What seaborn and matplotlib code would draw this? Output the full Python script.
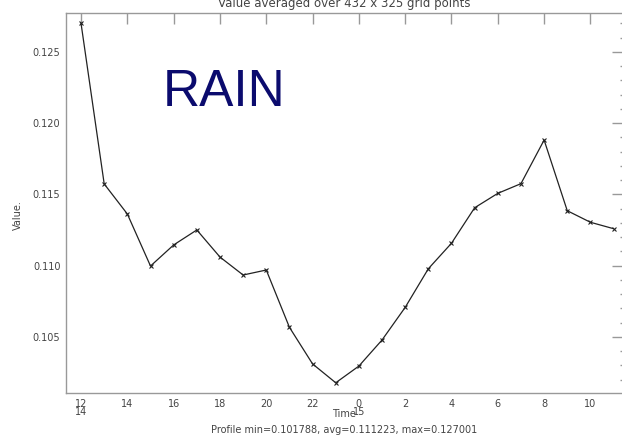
import matplotlib
matplotlib.use("Agg")
import matplotlib.pyplot as plt
import seaborn as sns
import pandas as pd
import numpy as np
from matplotlib.ticker import MultipleLocator, FixedLocator

# Data
hours = [12, 13, 14, 15, 16, 17, 18, 19, 20, 21, 22, 23,
         0, 1, 2, 3, 4, 5, 6, 7, 8, 9, 10, 11]
values = [0.127001, 0.11574, 0.11363, 0.10998, 0.11146, 0.11251, 0.11061, 0.10935,
          0.10970, 0.10568, 0.10311, 0.101788, 0.10296, 0.10479, 0.10708, 0.10979,
          0.11158, 0.11407, 0.11508, 0.11576, 0.11882, 0.11386, 0.11305, 0.11260]
tick_labels = ["12\n14", "14", "16", "18", "20", "22", "0\n15", "2", "4", "6", "8", "10"]
title = "Value averaged over 432 x 325 grid points"
footer = "Profile min=0.101788, avg=0.111223, max=0.127001"

df = pd.DataFrame({"step": np.arange(len(values)), "value": values})

sns.set_style("white")
plt.rcParams['font.family'] = ['DejaVu Sans']

W, H = 622, 438
fig = plt.figure(figsize=(W / 100, H / 100), dpi=100)
ax = fig.add_axes([66 / W, (H - 393) / H, (627 - 66) / W, (393 - 12.5) / H])

sns.lineplot(data=df, x="step", y="value", ax=ax, color="#222222", linewidth=0.9,
             marker="x", markersize=3.5, markeredgewidth=0.8, markeredgecolor="#222222")

ax.set_xlim(-0.65, 23.58)
ax.set_ylim(0.10107, 0.12777)

ax.xaxis.set_major_locator(FixedLocator(list(range(0, 24, 2))))
ax.set_xticklabels(tick_labels)
ax.yaxis.set_major_locator(FixedLocator([0.105, 0.110, 0.115, 0.120, 0.125]))
ax.set_yticklabels(["0.105", "0.110", "0.115", "0.120", "0.125"])
ax.yaxis.set_minor_locator(MultipleLocator(0.001))

text_col = "#444444"
spine_col = "#999999"
ax.tick_params(axis="both", which="both", direction="in", color=spine_col,
               labelcolor=text_col, labelsize=7, top=True, right=True, width=1.0)
ax.tick_params(axis="x", which="major", length=8, pad=4)
ax.tick_params(axis="y", which="major", length=11, pad=4)
ax.tick_params(axis="y", which="minor", length=5)
for lbl in ax.get_xticklabels():
    lbl.set_linespacing(0.85)

for s in ax.spines.values():
    s.set_color(spine_col)
    s.set_linewidth(1.0)

ax.set_xlabel("")
ax.set_ylabel("")
fig.text(18 / W, 1 - 215 / H, "Value.", rotation=90, ha="center", va="center",
         fontsize=7, color=text_col)
fig.text(344 / W, 1 - 414 / H, "Time", ha="center", va="center", fontsize=7, color=text_col)
fig.text(344 / W, 1 - 430 / H, footer, ha="center", va="center", fontsize=7, color=text_col)
fig.text(344 / W, 1 - 3 / H, title, ha="center", va="center", fontsize=8.5, color=text_col)

ax.text(163 / W, 1 - 93 / H, "RAIN", transform=fig.transFigure, ha="left", va="center",
        fontsize=37, color="#0b0b6e", family=["Liberation Sans"])

fig.savefig("out.png", dpi=100)
